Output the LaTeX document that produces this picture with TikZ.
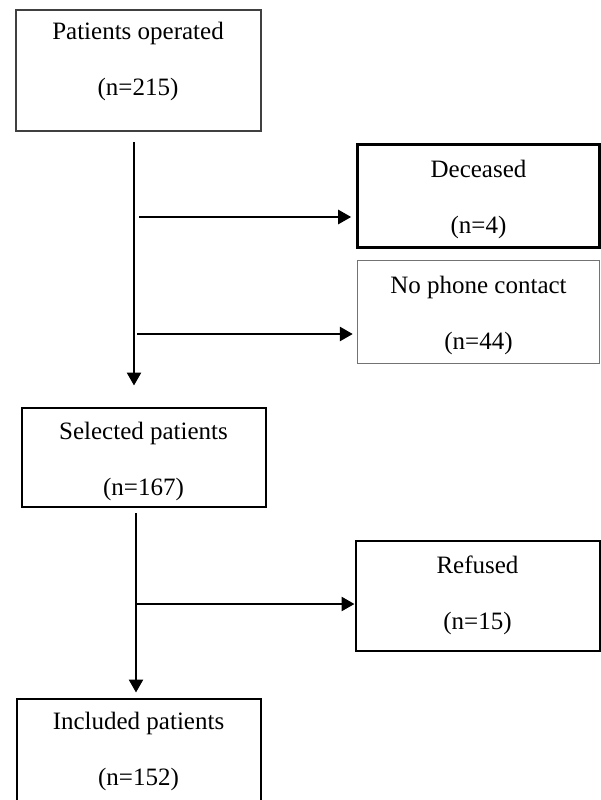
\documentclass[tikz,border=0pt]{standalone}
\usepackage{fontspec}
\setmainfont{Liberation Serif}
\usetikzlibrary{arrows.meta}
\begin{document}
\begin{tikzpicture}[x=1pt,y=-1pt,
    box/.style={rectangle,draw,line width=2pt,inner sep=0pt,align=center,
      font=\fontsize{25}{56}\selectfont},
    flow/.style={line width=2.6pt,-{Triangle[length=13pt,width=14pt]}}]
    \useasboundingbox (0,0) rectangle (601,800);
    \node (operated) at (138,70.5) [box,draw=black!75,text depth=23pt,minimum width=245pt,minimum height=120pt] {Patients operated\\(n=215)};
    \node (deceased) at (478.5,196) [box,line width=2.6pt,text height=80pt,minimum width=242pt,minimum height=103pt] {Deceased\\(n=4)};
    \node (nophone)  at (478.5,312) [box,line width=1.4pt,draw=black!55,text height=80pt,minimum width=242pt,minimum height=103pt] {No phone contact\\(n=44)};
    \node (selected) at (143.5,457) [box,text height=82pt,minimum width=244pt,minimum height=99pt] {Selected patients\\(n=167)};
    \node (refused)  at (477.5,595.5) [box,minimum width=244pt,minimum height=110pt] {Refused\\(n=15)};
    \node (included) at (138.5,751) [box,minimum width=244pt,minimum height=105pt] {Included patients\\(n=152)};
    \coordinate (trunk1) at (134,142);
    \coordinate (fork1)  at (139,217);
    \coordinate (fork2)  at (137,334);
    \coordinate (trunk2) at (136,513);
    \coordinate (fork3)  at (136,604);
    \draw [flow,shorten >=21pt] (trunk1) -- (trunk1 |- selected.north);
    \draw [flow,shorten >=5pt] (fork1) -- (fork1 -| deceased.west);
    \draw [flow,shorten >=4pt] (fork2) -- (fork2 -| nophone.west);
    \draw [flow,shorten >=5pt] (trunk2) -- (trunk2 |- included.north);
    \draw [flow] (fork3) -- (fork3 -| refused.west);
\end{tikzpicture}
\end{document}
